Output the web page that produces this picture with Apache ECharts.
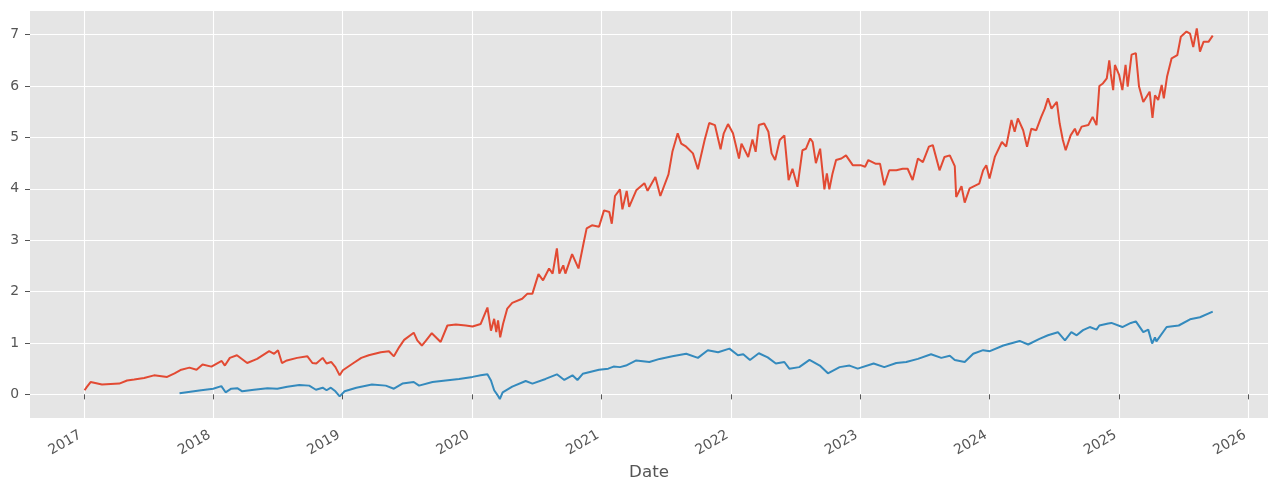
<!DOCTYPE html>
<html>
<head>
    <meta charset="utf-8">
    <title>Date</title>
    <script src="https://cdn.jsdelivr.net/npm/echarts@6/dist/echarts.min.js"></script>
    <style>
        html, body { margin: 0; padding: 0; background: #fff; }
        #chart { width: 1278px; height: 491px; }
    </style>
</head>
<body>
    <div id="chart"></div>
    <script type="text/javascript">
        // red series (first line)
        var redDates = [
            '2017-01-03','2017-01-09','2017-01-20','2017-02-02','2017-02-21','2017-04-11','2017-05-03','2017-05-23','2017-06-20','2017-07-18',
            '2017-08-24','2017-09-14','2017-10-03','2017-10-26','2017-11-15','2017-12-02','2017-12-27','2018-01-25','2018-02-03','2018-02-17',
            '2018-03-09','2018-04-07','2018-05-05','2018-06-08','2018-06-22','2018-07-03','2018-07-14','2018-07-28','2018-08-26','2018-09-24',
            '2018-10-08','2018-10-19','2018-11-06','2018-11-17','2018-11-30','2018-12-12','2018-12-24','2019-01-02','2019-01-30','2019-02-23',
            '2019-03-16','2019-04-19','2019-05-12','2019-05-26','2019-06-10','2019-06-24','2019-07-21','2019-07-31','2019-08-13','2019-08-24',
            '2019-09-10','2019-10-05','2019-10-24','2019-11-17','2019-12-15','2020-01-03','2020-01-26','2020-02-14','2020-02-24','2020-03-04',
            '2020-03-10','2020-03-15','2020-03-21','2020-03-29','2020-04-10','2020-04-24','2020-05-22','2020-06-06','2020-06-20','2020-07-07',
            '2020-07-20','2020-08-06','2020-08-16','2020-08-28','2020-09-04','2020-09-15','2020-09-21','2020-10-10','2020-10-28','2020-11-11',
            '2020-11-20','2020-12-05','2020-12-25','2021-01-08','2021-01-23','2021-01-30','2021-02-08','2021-02-22','2021-03-01','2021-03-13',
            '2021-03-20','2021-04-09','2021-05-02','2021-05-11','2021-06-02','2021-06-16','2021-07-09','2021-07-20','2021-08-04','2021-08-14',
            '2021-08-28','2021-09-16','2021-09-30','2021-10-19','2021-11-01','2021-11-17','2021-12-03','2021-12-12','2021-12-24','2022-01-07',
            '2022-01-24','2022-01-31','2022-02-19','2022-03-03','2022-03-12','2022-03-21','2022-04-05','2022-04-17','2022-04-26','2022-05-06',
            '2022-05-19','2022-06-01','2022-06-13','2022-06-24','2022-07-08','2022-07-22','2022-08-01','2022-08-13','2022-08-20','2022-08-29',
            '2022-09-10','2022-09-22','2022-09-29','2022-10-06','2022-10-15','2022-10-25','2022-11-09','2022-11-22','2022-12-11','2023-01-02',
            '2023-01-15','2023-01-24','2023-02-13','2023-02-26','2023-03-10','2023-03-24','2023-04-13','2023-05-01','2023-05-15','2023-05-29',
            '2023-06-13','2023-06-27','2023-07-14','2023-07-25','2023-08-13','2023-08-27','2023-09-11','2023-09-25','2023-09-29','2023-10-14',
            '2023-10-23','2023-11-06','2023-12-03','2023-12-14','2023-12-23','2024-01-01','2024-01-16','2024-02-05','2024-02-17','2024-03-03',
            '2024-03-12','2024-03-21','2024-04-05','2024-04-16','2024-04-28','2024-05-12','2024-05-26','2024-06-05','2024-06-14','2024-06-24',
            '2024-07-09','2024-07-17','2024-07-26','2024-08-03','2024-08-17','2024-08-29','2024-09-05','2024-09-17','2024-10-06','2024-10-18',
            '2024-10-29','2024-11-06','2024-11-16','2024-11-27','2024-12-04','2024-12-08','2024-12-15','2024-12-20','2025-01-01','2025-01-10',
            '2025-01-19','2025-01-25','2025-02-05','2025-02-17','2025-02-26','2025-03-10','2025-03-28','2025-04-05','2025-04-12','2025-04-21',
            '2025-05-01','2025-05-07','2025-05-16','2025-05-29','2025-06-14','2025-06-24','2025-07-10','2025-07-20','2025-07-29','2025-08-08',
            '2025-08-17','2025-08-27','2025-09-10','2025-09-22'
        ];
        var redValues = [
            0.08,0.14,0.24,0.22,0.19,0.21,0.27,0.29,0.32,0.37,
            0.34,0.41,0.48,0.52,0.48,0.58,0.54,0.65,0.56,0.71,
            0.76,0.61,0.69,0.84,0.79,0.86,0.61,0.66,0.71,0.74,
            0.61,0.60,0.71,0.60,0.63,0.53,0.37,0.47,0.60,0.71,
            0.76,0.82,0.84,0.74,0.92,1.06,1.20,1.05,0.95,1.04,
            1.19,1.02,1.34,1.36,1.34,1.32,1.37,1.69,1.24,1.47,
            1.21,1.44,1.11,1.37,1.67,1.78,1.86,1.96,1.96,2.34,
            2.22,2.45,2.35,2.84,2.35,2.51,2.35,2.73,2.45,2.93,
            3.23,3.29,3.26,3.58,3.55,3.32,3.86,3.99,3.60,3.96,
            3.65,3.97,4.11,3.96,4.23,3.86,4.28,4.72,5.08,4.88,
            4.82,4.69,4.38,4.95,5.28,5.24,4.77,5.08,5.26,5.08,
            4.59,4.88,4.62,4.96,4.72,5.24,5.27,5.11,4.69,4.56,
            4.95,5.04,4.17,4.39,4.04,4.75,4.78,4.98,4.91,4.50,
            4.78,3.99,4.30,3.99,4.30,4.56,4.59,4.65,4.46,4.46,
            4.43,4.56,4.49,4.49,4.07,4.36,4.36,4.39,4.39,4.17,
            4.59,4.52,4.82,4.85,4.36,4.62,4.65,4.44,3.84,4.05,
            3.73,4.01,4.10,4.36,4.46,4.20,4.62,4.91,4.82,5.34,
            5.11,5.37,5.14,4.82,5.17,5.14,5.40,5.56,5.76,5.56,
            5.69,5.27,4.95,4.75,5.04,5.17,5.04,5.21,5.24,5.40,
            5.24,6.00,6.05,6.15,6.50,6.25,5.92,6.41,6.21,5.92,
            6.41,5.99,6.61,6.64,5.99,5.69,5.89,5.38,5.82,5.73,
            6.02,5.76,6.18,6.54,6.60,6.96,7.06,7.02,6.76,7.12,
            6.67,6.86,6.86,6.98
        ];

        // blue series (second line)
        var blueDates = [
            '2017-09-28','2017-11-28','2018-01-01','2018-01-24','2018-02-05','2018-02-21','2018-03-10','2018-03-24','2018-04-26','2018-06-03',
            '2018-07-01','2018-07-29','2018-09-01','2018-09-29','2018-10-18','2018-11-06','2018-11-17','2018-11-29','2018-12-12','2018-12-24',
            '2019-01-07','2019-02-09','2019-03-25','2019-05-03','2019-05-26','2019-06-19','2019-07-21','2019-08-05','2019-09-12','2019-10-19',
            '2019-11-26','2020-01-03','2020-01-26','2020-02-14','2020-02-24','2020-03-04','2020-03-15','2020-03-20','2020-03-28','2020-04-24',
            '2020-06-01','2020-06-20','2020-07-27','2020-08-28','2020-09-18','2020-10-11','2020-10-25','2020-11-09','2020-12-25','2021-01-20',
            '2021-02-04','2021-02-22','2021-03-11','2021-04-09','2021-05-16','2021-06-14','2021-07-20','2021-08-28','2021-09-30','2021-10-28',
            '2021-11-26','2021-12-28','2022-01-21','2022-02-05','2022-02-24','2022-03-21','2022-04-15','2022-05-08','2022-06-01','2022-06-15',
            '2022-07-13','2022-08-11','2022-09-09','2022-10-02','2022-11-04','2022-12-02','2022-12-25','2023-02-08','2023-03-10','2023-04-13',
            '2023-05-11','2023-06-13','2023-07-20','2023-08-18','2023-09-11','2023-09-25','2023-10-23','2023-11-16','2023-12-14','2024-01-02',
            '2024-02-09','2024-03-26','2024-04-19','2024-05-21','2024-06-14','2024-07-12','2024-08-01','2024-08-19','2024-09-03','2024-09-21',
            '2024-10-10','2024-10-29','2024-11-06','2024-12-01','2024-12-10','2025-01-10','2025-02-03','2025-02-17','2025-03-10','2025-03-24',
            '2025-04-04','2025-04-12','2025-04-16','2025-05-15','2025-06-18','2025-07-20','2025-08-17','2025-09-22'
        ];
        var blueValues = [
            0.02,0.08,0.11,0.16,0.04,0.11,0.12,0.06,0.09,0.12,
            0.11,0.15,0.18,0.17,0.09,0.13,0.08,0.13,0.06,-0.04,
            0.06,0.13,0.19,0.17,0.11,0.21,0.24,0.17,0.24,0.27,
            0.30,0.34,0.37,0.39,0.27,0.08,-0.03,-0.09,0.04,0.15,
            0.26,0.21,0.30,0.39,0.28,0.37,0.28,0.40,0.48,0.50,
            0.54,0.53,0.56,0.66,0.63,0.69,0.74,0.79,0.71,0.86,
            0.82,0.89,0.76,0.78,0.67,0.80,0.72,0.60,0.63,0.50,
            0.53,0.67,0.56,0.41,0.53,0.56,0.50,0.60,0.53,0.61,
            0.63,0.69,0.78,0.71,0.75,0.67,0.63,0.79,0.86,0.84,
            0.95,1.04,0.97,1.08,1.15,1.21,1.05,1.21,1.15,1.25,
            1.31,1.26,1.34,1.38,1.39,1.31,1.39,1.42,1.21,1.26,
            0.99,1.11,1.03,1.31,1.34,1.46,1.50,1.61
        ];

        var yTicks = [0, 1, 2, 3, 4, 5, 6, 7];
        var xTicks = ['2017-01-01','2018-01-01','2019-01-01','2020-01-01','2021-01-01',
                      '2022-01-01','2023-01-01','2024-01-01','2025-01-01','2026-01-01'];

        // dates -> UTC ms so a plain value axis can carry them
        function ms(d) { return Date.parse(d); }
        function pairs(dates, values) {
            var out = [];
            for (var i = 0; i < dates.length; i++) out.push([ms(dates[i]), values[i]]);
            return out;
        }

        var myChart = echarts.init(document.getElementById('chart'));
        var font = 'DejaVu Sans';
        var option = {
            animation: false,
            backgroundColor: '#ffffff',
            grid: {
                left: 30, right: 10, top: 11, bottom: 73,
                show: true, backgroundColor: '#E5E5E5', borderWidth: 0
            },
            xAxis: {
                type: 'value',
                min: ms('2016-08-02'),
                max: ms('2026-02-25'),
                name: 'Date',
                nameLocation: 'middle',
                nameGap: 44,
                nameTextStyle: { fontFamily: font, fontSize: 16.7, color: '#555555' },
                axisLine: { show: false },
                axisTick: { show: true, length: 5, customValues: xTicks.map(ms), lineStyle: { color: '#555555', width: 1 } },
                axisLabel: {
                    customValues: xTicks.map(ms),
                    rotate: 30,
                    margin: 14,
                    padding: [0, 4, 0, 0],
                    fontFamily: font, fontSize: 13.9, color: '#555555',
                    formatter: function (v) { return String(new Date(v).getUTCFullYear()); }
                },
                splitLine: { show: true, lineStyle: { color: '#ffffff', width: 1.1 } }
            },
            yAxis: {
                type: 'value',
                min: -0.46,
                max: 7.46,
                axisLine: { show: false },
                axisTick: { show: true, length: 5, customValues: yTicks, lineStyle: { color: '#555555', width: 1 } },
                axisLabel: { customValues: yTicks, margin: 11, fontFamily: font, fontSize: 13.9, color: '#555555' },
                splitLine: { show: true, lineStyle: { color: '#ffffff', width: 1.1 } }
            },
            series: [
                {
                    name: 'red', type: 'line', showSymbol: false, symbol: 'none',
                    data: pairs(redDates, redValues),
                    lineStyle: { color: '#E24A33', width: 2 }
                },
                {
                    name: 'blue', type: 'line', showSymbol: false, symbol: 'none',
                    data: pairs(blueDates, blueValues),
                    lineStyle: { color: '#348ABD', width: 2 }
                }
            ]
        };
        myChart.setOption(option);
    </script>
</body>
</html>
